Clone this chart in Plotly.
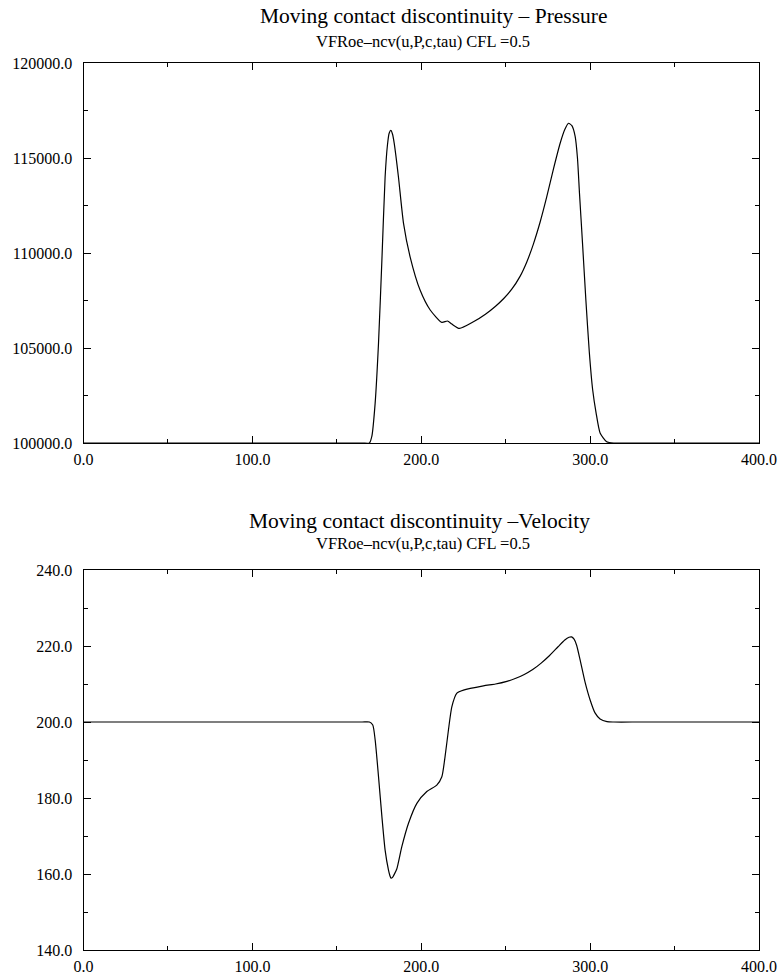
import plotly.graph_objects as go

# Pressure profile along the tube (x in m, P in Pa)
x_pressure = [0, 100, 165, 169.3, 170.7, 172.7, 174.7, 176.7, 178.6, 180.0, 181.0, 182.0,
              183.0, 184.0, 186.5, 189.5, 193.4, 199.3, 205.3, 212.2, 215.5, 218.1, 222.6,
              230.9, 238.0, 244.0, 249.0, 253.5, 258.5, 262.5, 266.4, 270.4, 274.3, 278.3,
              282.3, 285.0, 287.2, 289.2, 291.1, 292.5, 293.7, 295.5, 297.5, 299.5, 301.5,
              303.5, 305.9, 309.8, 314, 330, 400]
pressure = [100000, 100000, 100000, 100000, 100330, 102100, 105260, 109630, 114000, 115700,
            116300, 116450, 116250, 115770, 114000, 111560, 109800, 108050, 107000, 106350,
            106420, 106260, 106030, 106380, 106780, 107200, 107620, 108080, 108770, 109530,
            110470, 111630, 112950, 114430, 115790, 116500, 116830, 116700, 116150, 115000,
            113140, 110500, 107500, 104800, 102800, 101600, 100530, 100070, 100000, 100000,
            100000]

# Velocity profile along the tube (x in m, u in m/s)
x_velocity = [0, 100, 165, 169.3, 171.3, 172.7, 174.7, 176.7, 178.6, 180.6, 181.4, 182.1,
              183.0, 184.0, 185.5, 188.5, 192.4, 197.4, 203.3, 209.2, 212.2, 214.1, 216.1,
              218.1, 221.1, 225.0, 236.8, 244.0, 250.7, 256.0, 261.0, 266.0, 271.0, 276.0,
              281.0, 285.0, 287.5, 289.0, 290.5, 292.0, 294.0, 297.0, 300.0, 302.9, 305.9,
              310.0, 314, 330, 400]
velocity = [200, 200, 200, 200, 199.2, 195.3, 185.6, 175.1, 166.3, 161.0, 159.6, 158.9,
            159.1, 159.9, 161.3, 167.2, 173.3, 178.6, 181.7, 183.4, 185.6, 190.9, 197.9,
            204.0, 207.6, 208.4, 209.5, 210.0, 210.7, 211.5, 212.5, 213.8, 215.5, 217.5,
            219.8, 221.6, 222.3, 222.4, 221.8, 220.2, 216.5, 210.5, 205.8, 202.4, 200.8,
            200.1, 200, 200, 200]

x_ticks = [0, 100, 200, 300, 400]
p_ticks = [100000, 105000, 110000, 115000, 120000]
u_ticks = [140, 160, 180, 200, 220, 240]

W, H = 780, 978
FONT = "Liberation Serif"


def px_x(v):
    return v / W


def px_y(v):
    return 1 - v / H


fig = go.Figure()
line_style = dict(color="black", width=1.2, shape="spline", smoothing=0.6)
fig.add_trace(go.Scatter(x=x_pressure, y=pressure, mode="lines", line=line_style,
                         xaxis="x", yaxis="y", showlegend=False))
fig.add_trace(go.Scatter(x=x_velocity, y=velocity, mode="lines", line=line_style,
                         xaxis="x2", yaxis="y2", showlegend=False))

x_dom = [px_x(83.5), px_x(759)]
axis_common = dict(
    showline=True, linecolor="black", linewidth=1.2, mirror="allticks",
    ticks="inside", ticklen=7, tickwidth=1, tickcolor="black",
    showgrid=False, zeroline=False, tickformat=".1f", automargin=False,
    tickfont=dict(family=FONT, size=16, color="black"),
)

fig.update_layout(
    width=W, height=H,
    margin=dict(l=0, r=0, t=0, b=0),
    paper_bgcolor="white", plot_bgcolor="white",
    xaxis=dict(domain=x_dom, range=[0, 400], tickvals=x_ticks, anchor="y",
               minor=dict(dtick=50, tick0=0, ticklen=4, ticks="inside", tickcolor="black"),
               ticklabelstandoff=2, **axis_common),
    yaxis=dict(domain=[px_y(443), px_y(63)], range=[100000, 120000], tickvals=p_ticks,
               anchor="x",
               minor=dict(dtick=2500, tick0=100000, ticklen=4, ticks="inside", tickcolor="black"),
               ticklabelstandoff=7, **axis_common),
    xaxis2=dict(domain=x_dom, range=[0, 400], tickvals=x_ticks, anchor="y2",
                minor=dict(dtick=50, tick0=0, ticklen=4, ticks="inside", tickcolor="black"),
                ticklabelstandoff=2, **axis_common),
    yaxis2=dict(domain=[px_y(950), px_y(570)], range=[140, 240], tickvals=u_ticks,
                anchor="x2",
                minor=dict(dtick=10, tick0=140, ticklen=4, ticks="inside", tickcolor="black"),
                ticklabelstandoff=7, **axis_common),
)

texts = [
    ("Moving contact discontinuity – Pressure", 258, 16, 21.5),
    ("VFRoe–ncv(u,P,c,tau) CFL =0.5", 314, 42, 16.5),
    ("Moving contact discontinuity –Velocity", 247, 521, 21.5),
    ("VFRoe–ncv(u,P,c,tau) CFL =0.5", 314, 543, 16.5),
]
for txt, x0, yc, size in texts:
    fig.add_annotation(text=txt, x=px_x(x0), y=px_y(yc), xref="paper", yref="paper",
                       xanchor="left", yanchor="middle", showarrow=False,
                       font=dict(family=FONT, size=size, color="black"))

fig.write_html("out.html")
